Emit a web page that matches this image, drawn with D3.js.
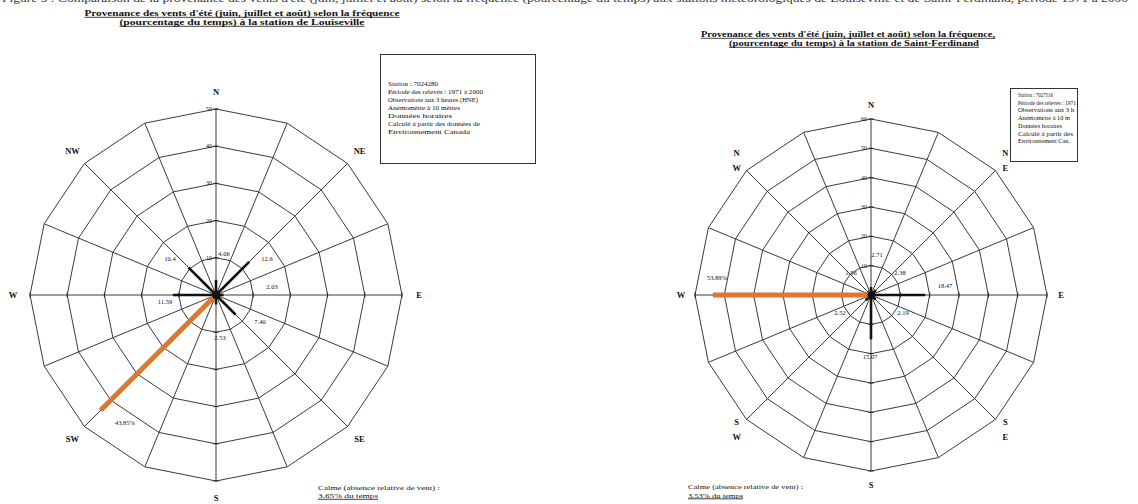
<!DOCTYPE html>
<html>
<head>
<meta charset="utf-8">
<script src="https://cdn.jsdelivr.net/npm/d3@7"></script>
<style>
  body { margin: 0; background: #fff; }
  svg { display: block; }
  text { font-family: "Liberation Serif", "DejaVu Serif", serif; fill: #111; }
</style>
</head>
<body>
<svg id="chart" width="1138" height="504"></svg>
<script>
// 16 compass sectors, clockwise from north
const directions = ["N","NNE","NE","ENE","E","ESE","SE","SSE","S","SSW","SW","WSW","W","WNW","NW","NNW"];

// Summer wind frequency (% of time) by direction
const louisevilleValues = [4.06, 0, 12.6, 0, 2.03, 0, 7.40, 0, 2.53, 0, 43.85, 0, 11.59, 0, 10.4, 0];
const stFerdinandValues = [2.71, 0, 2.38, 0, 18.47, 0, 2.19, 0, 15.07, 0, 2.52, 0, 53.89, 0, 1.56, 0];

// Value labels as printed (index into directions)
const louisevilleLabels = [[0,"4.06"],[2,"12.6"],[4,"2.03"],[6,"7.40"],[8,"2.53"],[10,"43.85%"],[12,"11.59"],[14,"10.4"]];
const stFerdinandLabels = [[0,"2.71"],[2,"2.38"],[4,"18.47"],[6,"2.19"],[8,"15.07"],[10,"2.52"],[12,"53.89%"],[14,"1.56"]];

// Radial ticks
const louisevilleTicks = [10, 20, 30, 40, 50];
const stFerdinandTicks = [10, 20, 30, 40, 50, 60];

// Compass labels every 45°
const compassInline  = [["N"],["NE"],["E"],["SE"],["S"],["SW"],["W"],["NW"]];
const compassStacked = [["N"],["N","E"],["E"],["S","E"],["S"],["S","W"],["W"],["N","W"]];

// Calm percentages
const calmLouiseville = "3.65% du temps";
const calmStFerdinand = "3.53% du temps";

// Titles and station notes
const titleLouiseville = ["Provenance des vents d'été (juin, juillet et août) selon la fréquence",
                          "(pourcentage du temps) à la station de Louiseville"];
const titleStFerdinand = ["Provenance des vents d'été (juin, juillet et août) selon la fréquence,",
                          "(pourcentage du temps) à la station de Saint-Ferdinand"];
const notesLouiseville = ["Station : 7024280",
                          "Période des relevés : 1971 à 2000",
                          "Observations aux 3 heures (HNE)",
                          "Anémomètre à 10 mètres",
                          "Données horaires",
                          "Calculé à partir des données de",
                          "Environnement Canada"];
const notesStFerdinand = ["Station : 7027516",
                          "Période des relevés : 1971",
                          "Observations aux 3 h",
                          "Anémomètre à 10 m",
                          "Données horaires",
                          "Calculé à partir des",
                          "Environnement Can."];
const calmText = "Calme (absence relative de vent) :";
const caption = "Figure 3 : Comparaison de la provenance des vents d'été (juin, juillet et août) selon la fréquence (pourcentage du temps) aux stations météorologiques de Louiseville et de Saint-Ferdinand, période 1971 à 2000";

const svg = d3.select("#chart");

// Caption running off the top edge of the page
svg.append("text").attr("x", 2).attr("y", 2).attr("font-size", 11)
  .attr("textLength", 1126).attr("lengthAdjust", "spacingAndGlyphs")
  .style("fill", "#333").text(caption);

function underlinedText(g, x, y, str, size, width, anchor, bold) {
  const t = g.append("text").attr("x", x).attr("y", y).attr("font-size", size)
    .attr("text-anchor", anchor).attr("font-weight", bold ? "bold" : "normal")
    .attr("textLength", width).attr("lengthAdjust", "spacingAndGlyphs").text(str);
  const x0 = anchor === "middle" ? x - width / 2 : x;
  g.append("line").attr("x1", x0).attr("x2", x0 + width)
    .attr("y1", y + 1.3).attr("y2", y + 1.3).attr("stroke", "#111").attr("stroke-width", 0.8);
  return t;
}

function drawRose(cfg) {
  const g = svg.append("g").attr("transform", `translate(${cfg.cx},${cfg.cy})`);
  const r = d3.scaleLinear().domain([0, cfg.max]).range([0, cfg.R]);
  const angle = d3.scaleLinear().domain([0, directions.length]).range([0, 2 * Math.PI]);
  const px = (i, v) => r(v) * Math.sin(angle(i));
  const py = (i, v) => -r(v) * Math.cos(angle(i));
  const idx = d3.range(directions.length);

  const ring = d3.lineRadial().angle(i => angle(i)).curve(d3.curveLinearClosed);

  // data area (faint fill)
  g.append("path")
    .attr("d", d3.lineRadial().angle(i => angle(i)).radius(i => r(cfg.values[i])).curve(d3.curveLinearClosed)(idx))
    .attr("fill", "#cfe5f6").attr("fill-opacity", 0.6)
    .attr("stroke", "#a9cdec").attr("stroke-width", 0.6);

  // polygon rings
  cfg.ticks.forEach(t => {
    g.append("path").attr("d", ring.radius(r(t))(idx))
      .attr("fill", "none").attr("stroke", "#3a3a3a").attr("stroke-width", 1);
  });

  // spokes
  g.selectAll("line.spoke").data(idx).join("line").attr("class", "spoke")
    .attr("x1", 0).attr("y1", 0)
    .attr("x2", i => px(i, cfg.max)).attr("y2", i => py(i, cfg.max))
    .attr("stroke", "#3a3a3a").attr("stroke-width", 1);

  // tick marks on the cardinal axes
  [0, 4, 8, 12].forEach(i => {
    cfg.ticks.forEach(t => {
      const x = px(i, t), y = py(i, t);
      const horiz = i % 8 === 0;
      g.append("line")
        .attr("x1", horiz ? x - 2.5 : x).attr("x2", horiz ? x + 2.5 : x)
        .attr("y1", horiz ? y : y - 2.5).attr("y2", horiz ? y : y + 2.5)
        .attr("stroke", "#222").attr("stroke-width", 1);
    });
  });

  // tick labels on the north axis
  cfg.ticks.forEach(t => {
    g.append("text").attr("x", -4).attr("y", -r(t) + 2).attr("text-anchor", "end")
      .attr("font-size", 6).text(t);
  });

  // bars
  const maxIdx = d3.maxIndex(cfg.values);
  idx.filter(i => cfg.values[i] > 0 && i !== maxIdx).forEach(i => {
    g.append("line").attr("x1", 0).attr("y1", 0)
      .attr("x2", px(i, cfg.values[i])).attr("y2", py(i, cfg.values[i]))
      .attr("stroke", "#111").attr("stroke-width", 2.6);
  });
  g.append("line").attr("x1", 0).attr("y1", 0)
    .attr("x2", px(maxIdx, cfg.values[maxIdx])).attr("y2", py(maxIdx, cfg.values[maxIdx]))
    .attr("stroke", "#e2762a").attr("stroke-width", 5);

  g.append("circle").attr("r", cfg.dot).attr("fill", "#111");

  // value labels
  cfg.labels.forEach(([i, s], k) => {
    const [dx, dy] = cfg.labelOffsets[k];
    g.append("text").attr("x", dx).attr("y", dy).attr("text-anchor", "middle")
      .attr("font-size", 6.5).text(s);
  });

  // compass labels
  cfg.compass.forEach((lines, k) => {
    const a = angle(k * 2);
    const x = cfg.compassR * Math.sin(a), y = -cfg.compassR * Math.cos(a);
    const lh = 15;
    lines.forEach((s, j) => {
      g.append("text").attr("x", x).attr("y", y + 3 + (j - (lines.length - 1) / 2) * lh)
        .attr("text-anchor", "middle").attr("font-size", 8.5).attr("font-weight", "bold").text(s);
    });
  });
}

// Louiseville
drawRose({
  cx: 216, cy: 295, R: 186, max: 50, dot: 4,
  values: louisevilleValues, ticks: louisevilleTicks, labels: louisevilleLabels,
  labelOffsets: [[8,-39],[51,-34],[56,-6],[44,29],[4,45],[-91,130],[-51,9],[-46,-34]],
  compass: compassInline, compassR: 203
});

// Saint-Ferdinand
drawRose({
  cx: 871, cy: 295, R: 176, max: 60, dot: 3.5,
  values: stFerdinandValues, ticks: stFerdinandTicks, labels: stFerdinandLabels,
  labelOffsets: [[6,-38],[29,-20],[74,-7],[32,20],[-1,64],[-31,20],[-154,-15],[-20,-20]],
  compass: compassStacked, compassR: 190
});

// Titles
const titles = svg.append("g");
underlinedText(titles, 242, 16, titleLouiseville[0], 8.5, 315, "middle", true);
underlinedText(titles, 242, 25, titleLouiseville[1], 8.5, 245, "middle", true);
underlinedText(titles, 848, 37, titleStFerdinand[0], 8.5, 294, "middle", true);
underlinedText(titles, 854, 46, titleStFerdinand[1], 8.5, 250, "middle", true);

// Station note boxes
function noteBox(x, y, w, h, lines, widths, tx, ty, step) {
  const g = svg.append("g");
  g.append("rect").attr("x", x).attr("y", y).attr("width", w).attr("height", h)
    .attr("fill", "#fff").attr("stroke", "#333").attr("stroke-width", 1);
  lines.forEach((s, k) => {
    g.append("text").attr("x", tx).attr("y", ty + k * step).attr("font-size", 6)
      .attr("textLength", widths[k]).attr("lengthAdjust", "spacingAndGlyphs").text(s);
  });
}
noteBox(380.5, 54.5, 155, 109, notesLouiseville, [50, 95, 90, 72, 64, 92, 82], 388, 86, 8);
noteBox(1010.5, 88.5, 67, 73, notesStFerdinand, [35, 58, 56, 52, 44, 55, 52], 1018, 97, 7.7);

// Calm notes
const calm = svg.append("g");
calm.append("text").attr("x", 318).attr("y", 490).attr("font-size", 6.5)
  .attr("textLength", 122).attr("lengthAdjust", "spacingAndGlyphs").text(calmText);
underlinedText(calm, 318, 498, calmLouiseville, 6.5, 60, "start", false);
calm.append("text").attr("x", 688).attr("y", 489).attr("font-size", 6.5)
  .attr("textLength", 115).attr("lengthAdjust", "spacingAndGlyphs").text(calmText);
underlinedText(calm, 688, 497.5, calmStFerdinand, 6.5, 55, "start", false);
</script>
</body>
</html>
